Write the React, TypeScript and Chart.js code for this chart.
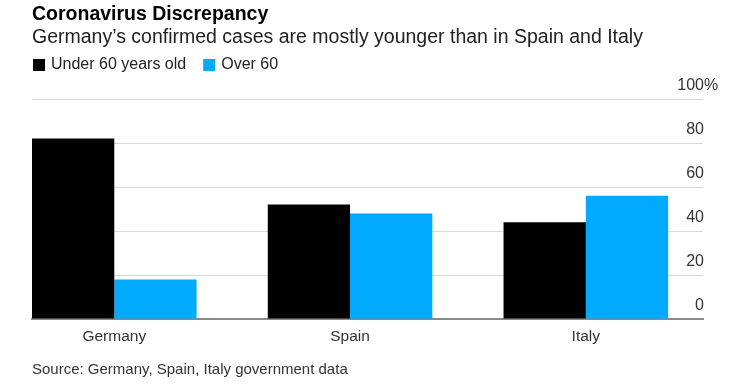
import React, { useEffect, useRef } from 'react';
import { Chart, registerables } from 'chart.js';

Chart.register(...registerables);

const titleText = 'Coronavirus Discrepancy';
const subtitleText = 'Germany’s confirmed cases are mostly younger than in Spain and Italy';
const sourceText = 'Source: Germany, Spain, Italy government data';
const categories = ['Germany', 'Spain', 'Italy'];
const seriesLabels = ['Under 60 years old', 'Over 60'];
const under60 = [82, 52, 44];
const over60 = [18, 48, 56];
const yTickValues = [0, 20, 40, 60, 80, 100];

const FONT = '"Liberation Sans", Arial, Helvetica, sans-serif';
const BLACK = '#000000';
const BLUE = '#00aaff';

const legendAndSourcePlugin = {
  id: 'legendAndSource',
  afterDraw(chart: any) {
    const ctx = chart.ctx;
    ctx.save();
    ctx.font = `16px ${FONT}`;
    ctx.textBaseline = 'middle';
    ctx.textAlign = 'left';
    let x = 33;
    const y = 65;
    chart.data.datasets.forEach((ds: any) => {
      ctx.fillStyle = ds.backgroundColor;
      ctx.fillRect(x, y - 6, 12, 12);
      ctx.fillStyle = '#222222';
      ctx.fillText(ds.label, x + 18, y);
      x += 18 + ctx.measureText(ds.label).width + 17;
    });
    ctx.font = `15px ${FONT}`;
    ctx.fillStyle = '#333333';
    ctx.fillText(sourceText, 32, 370);
    ctx.restore();
  },
};

const percentLabelPlugin = {
  id: 'percentLabel',
  beforeDraw(chart: any) {
    const s = chart.scales.y;
    if (!s) return;
    const items = s.getLabelItems();
    const ctx = chart.ctx;
    items.forEach((it: any) => {
      const lbl = String(it.label);
      if (lbl.endsWith('%') && !it._pctDone) {
        ctx.save();
        ctx.font = it.font.string;
        const w = ctx.measureText(lbl.slice(0, -1)).width;
        ctx.restore();
        it.options.textAlign = 'left';
        it.options.translation = [it.options.translation[0] - w, it.options.translation[1]];
        it._pctDone = true;
      }
    });
  },
};

export default function App() {
  const canvasRef = useRef<HTMLCanvasElement | null>(null);

  useEffect(() => {
    const canvas = canvasRef.current;
    if (!canvas) return;
    const chart = new Chart(canvas, {
      type: 'bar',
      data: {
        datasets: [
          {
            label: seriesLabels[0],
            data: categories.map((_, i) => ({ x: i, y: under60[i] })),
            backgroundColor: BLACK,
            borderWidth: 0,
            categoryPercentage: 0.698,
            barPercentage: 1,
          },
          {
            label: seriesLabels[1],
            data: categories.map((_, i) => ({ x: i, y: over60[i] })),
            backgroundColor: BLUE,
            borderWidth: 0,
            categoryPercentage: 0.698,
            barPercentage: 1,
          },
        ],
      },
      options: {
        responsive: false,
        animation: false,
        events: [],
        layout: { padding: { left: 32, right: 35, top: 0, bottom: 35.4 } },
        plugins: {
          legend: { display: false },
          tooltip: { enabled: false },
          title: {
            display: true,
            text: titleText,
            align: 'start',
            color: '#000000',
            font: { family: FONT, size: 19.5, weight: 'bold' },
            padding: { top: 3, bottom: 0 },
          },
          subtitle: {
            display: true,
            text: subtitleText,
            align: 'start',
            color: '#222222',
            font: { family: FONT, size: 19.5, weight: 'normal' },
            padding: { top: 0, bottom: 49.2 },
          },
        },
        scales: {
          x: {
            type: 'linear',
            min: -0.349,
            max: 2.497,
            offset: false,
            afterBuildTicks: (axis: any) => {
              axis.ticks = categories.map((_, i) => ({ value: i }));
            },
            grid: { display: false, drawTicks: false },
            border: { display: true, color: '#8a8a8a', width: 2 },
            ticks: {
              autoSkip: false,
              maxRotation: 0,
              padding: 8,
              color: '#333333',
              font: { family: FONT, size: 15.5 },
              callback: (v: any) => categories[v] ?? '',
            },
          },
          y: {
            position: 'right',
            min: 0,
            max: 100,
            afterBuildTicks: (axis: any) => {
              axis.ticks = yTickValues.map((v) => ({ value: v }));
            },
            grid: { color: '#d9d9d9', lineWidth: 1, drawTicks: false },
            border: { display: false },
            ticks: {
              mirror: true,
              crossAlign: 'near',
              padding: 1,
              labelOffset: -13,
              color: '#333333',
              font: { family: FONT, size: 16 },
              callback: (v: any) => (v === 100 ? `${v}%` : `${v}`),
            },
          },
        },
      } as any,
      plugins: [percentLabelPlugin, legendAndSourcePlugin],
    });
    return () => chart.destroy();
  }, []);

  return (
    <div style={{ position: 'fixed', left: 0, top: 0, width: 740, height: 389, background: '#ffffff' }}>
      <canvas ref={canvasRef} width={740} height={389} />
    </div>
  );
}
